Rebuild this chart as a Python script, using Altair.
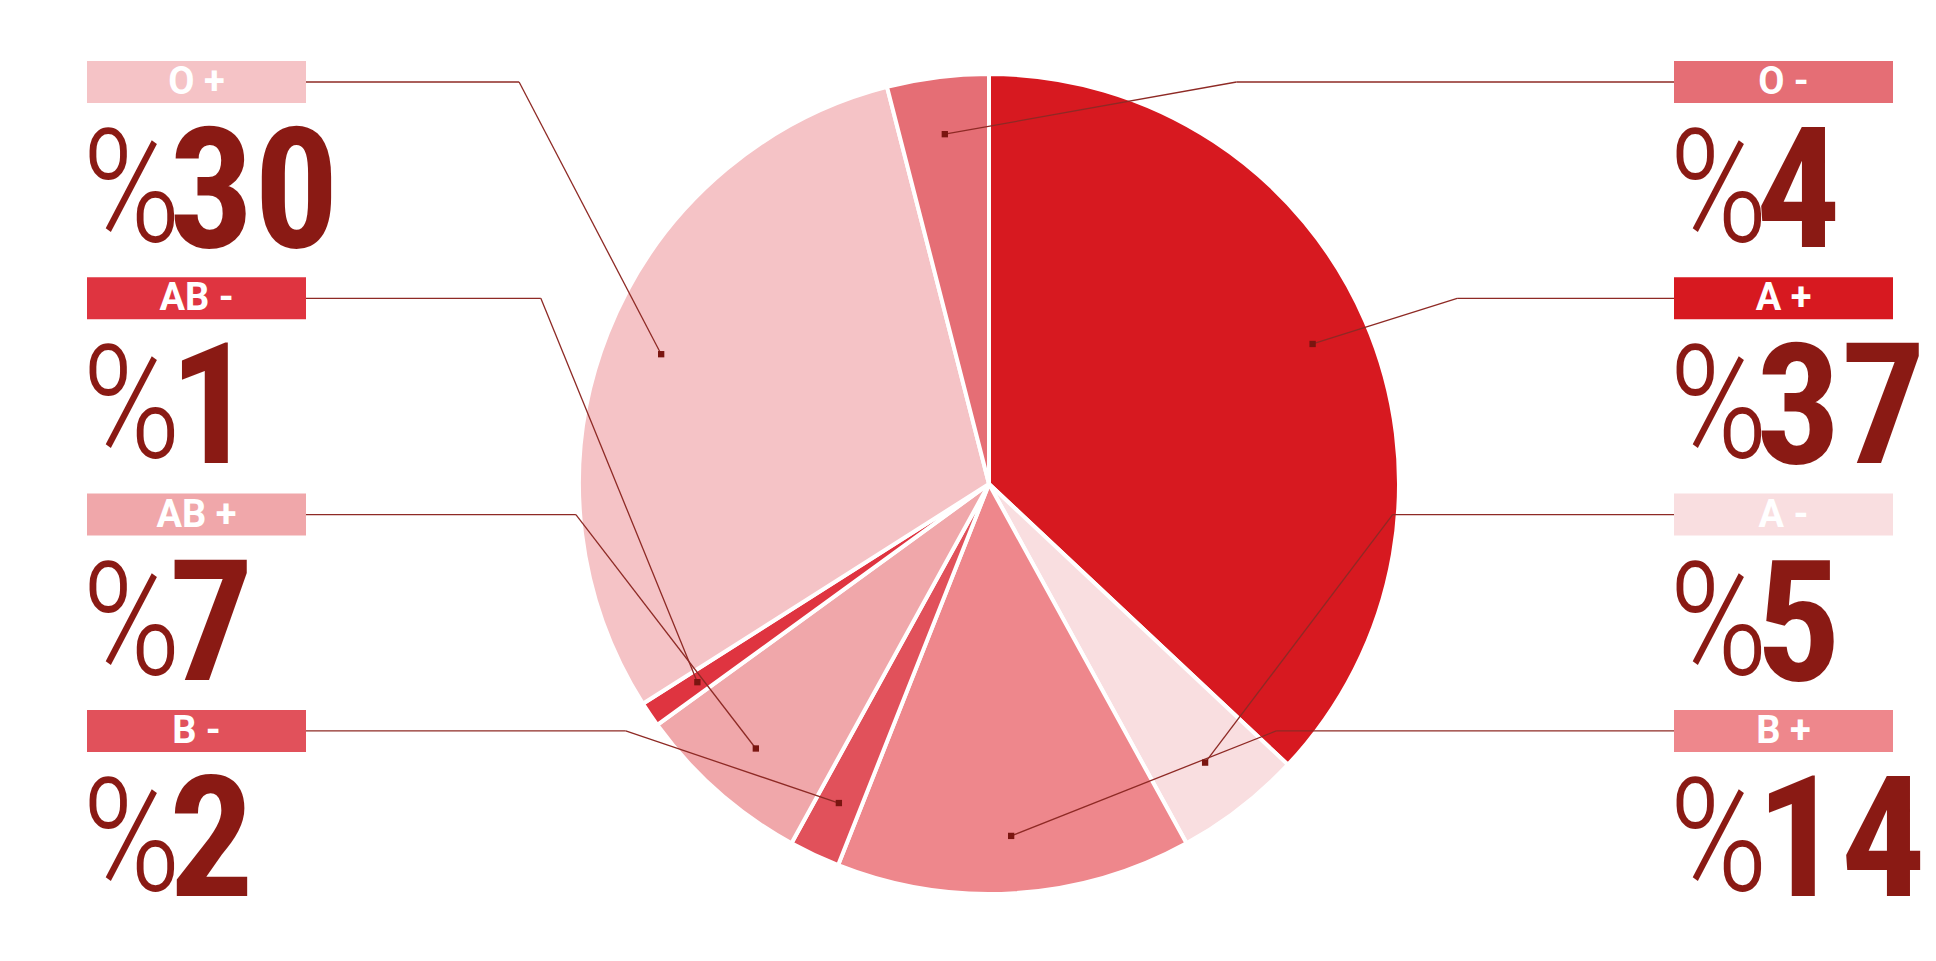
import math
import altair as alt
import pandas as pd

# ---- data ----
types = ["A +", "A -", "B +", "B -", "AB +", "AB -", "O +", "O -"]
values = [37, 5, 14, 2, 7, 1, 30, 4]
colors = ["#D71920", "#F9DEE0", "#EE878C", "#E1515B", "#F0A7AA", "#DF3440", "#F5C3C6", "#E56E75"]
left_labels = ["O +", "AB -", "AB +", "B -"]
right_labels = ["O -", "A +", "A -", "B +"]

# ---- layout (page pixels) ----
CX, CY, R = 989, 484, 410
BOX_W, BOX_H = 219, 42
LEFT_X, RIGHT_X = 87, 1674
ROW0, ROW_STEP = 61, 216.3
DOT_R = 0.86
ELBOW = 0.6
W, H = 1920, 920
DARK = "#8A1A14"
LINE = "#8E2A25"
BIG_FONT = "Liberation Sans Narrow, Roboto Condensed, Arial Narrow, DejaVu Sans Condensed, sans-serif"

total = sum(values)
val = dict(zip(types, values))
mid = {}
cum = 0
for t, v in zip(types, values):
    mid[t] = (cum + v / 2) / total * 2 * math.pi
    cum += v

slices = pd.DataFrame({"type": types, "value": values, "idx": list(range(len(types)))})

box_rows, seg_rows, dot_rows = [], [], []
for side, names, bx in (("L", left_labels, LEFT_X), ("R", right_labels, RIGHT_X)):
    for i, name in enumerate(names):
        y0 = ROW0 + i * ROW_STEP
        ym = y0 + BOX_H / 2
        a = mid[name]
        px = CX + DOT_R * R * math.sin(a)
        py = CY - DOT_R * R * math.cos(a)
        edge = bx + BOX_W if side == "L" else bx
        ex = edge + ELBOW * (px - edge)
        box_rows.append({
            "type": name, "x0": bx, "x1": bx + BOX_W, "y0": y0, "y1": y0 + BOX_H,
            "xc": bx + BOX_W / 2, "ym": ym,
            "px_pct": bx + 95, "px_num": bx + 82,
            "y_pct": y0 + 180, "y_num": y0 + 186,
            "num": str(val[name]),
        })
        seg_rows.append({"x": edge, "y": ym, "x2": ex, "y2": ym})
        seg_rows.append({"x": ex, "y": ym, "x2": px, "y2": py})
        dot_rows.append({"x": px, "y": py})

boxes = pd.DataFrame(box_rows)
segs = pd.DataFrame(seg_rows)
dots = pd.DataFrame(dot_rows)

xs = alt.Scale(domain=[8, 8 + W], nice=False, zero=False)
ys = alt.Scale(domain=[8, 8 + H], nice=False, zero=False, reverse=True)
cs = alt.Scale(domain=types, range=colors)

pie = alt.Chart(slices).mark_arc(outerRadius=R, stroke="white", strokeWidth=4).encode(
    theta=alt.Theta("value:Q", stack=True),
    order=alt.Order("idx:Q", sort="ascending"),
    color=alt.Color("type:N", scale=cs, legend=None),
    x=alt.X(datum=CX, type="quantitative", scale=xs, axis=None),
    y=alt.Y(datum=CY, type="quantitative", scale=ys, axis=None),
)

lines = alt.Chart(segs).mark_rule(color=LINE, strokeWidth=1.3).encode(
    x=alt.X("x:Q", scale=xs, axis=None), x2="x2:Q",
    y=alt.Y("y:Q", scale=ys, axis=None), y2="y2:Q",
)

dot_layer = alt.Chart(dots).mark_square(size=40, color="#7A1510", opacity=1).encode(
    x=alt.X("x:Q", scale=xs, axis=None),
    y=alt.Y("y:Q", scale=ys, axis=None),
)

rects = alt.Chart(boxes).mark_rect().encode(
    x=alt.X("x0:Q", scale=xs, axis=None), x2="x1:Q",
    y=alt.Y("y0:Q", scale=ys, axis=None), y2="y1:Q",
    color=alt.Color("type:N", scale=cs, legend=None),
)

box_text = alt.Chart(boxes).mark_text(
    font="Roboto", fontWeight="bold", fontSize=38, color="white",
    align="center", baseline="middle", dy=1,
).encode(
    x=alt.X("xc:Q", scale=xs, axis=None),
    y=alt.Y("ym:Q", scale=ys, axis=None),
    text="type:N",
)

pct_text = alt.Chart(boxes).mark_text(
    font=BIG_FONT, fontWeight=300, fontSize=158, color=DARK,
    align="right", baseline="alphabetic", text="%",
).encode(
    x=alt.X("px_pct:Q", scale=xs, axis=None),
    y=alt.Y("y_pct:Q", scale=ys, axis=None),
)

num_text = alt.Chart(boxes).mark_text(
    font=BIG_FONT, fontWeight="bold", fontSize=168, color=DARK,
    align="left", baseline="alphabetic",
).encode(
    x=alt.X("px_num:Q", scale=xs, axis=None),
    y=alt.Y("y_num:Q", scale=ys, axis=None),
    text="num:N",
)

chart = alt.layer(pie, lines, dot_layer, rects, box_text, pct_text, num_text).properties(
    width=W, height=H, padding=0, background="white",
).configure_view(stroke=None)

chart.save("out.html", embed_options={"renderer": "svg", "actions": False})
